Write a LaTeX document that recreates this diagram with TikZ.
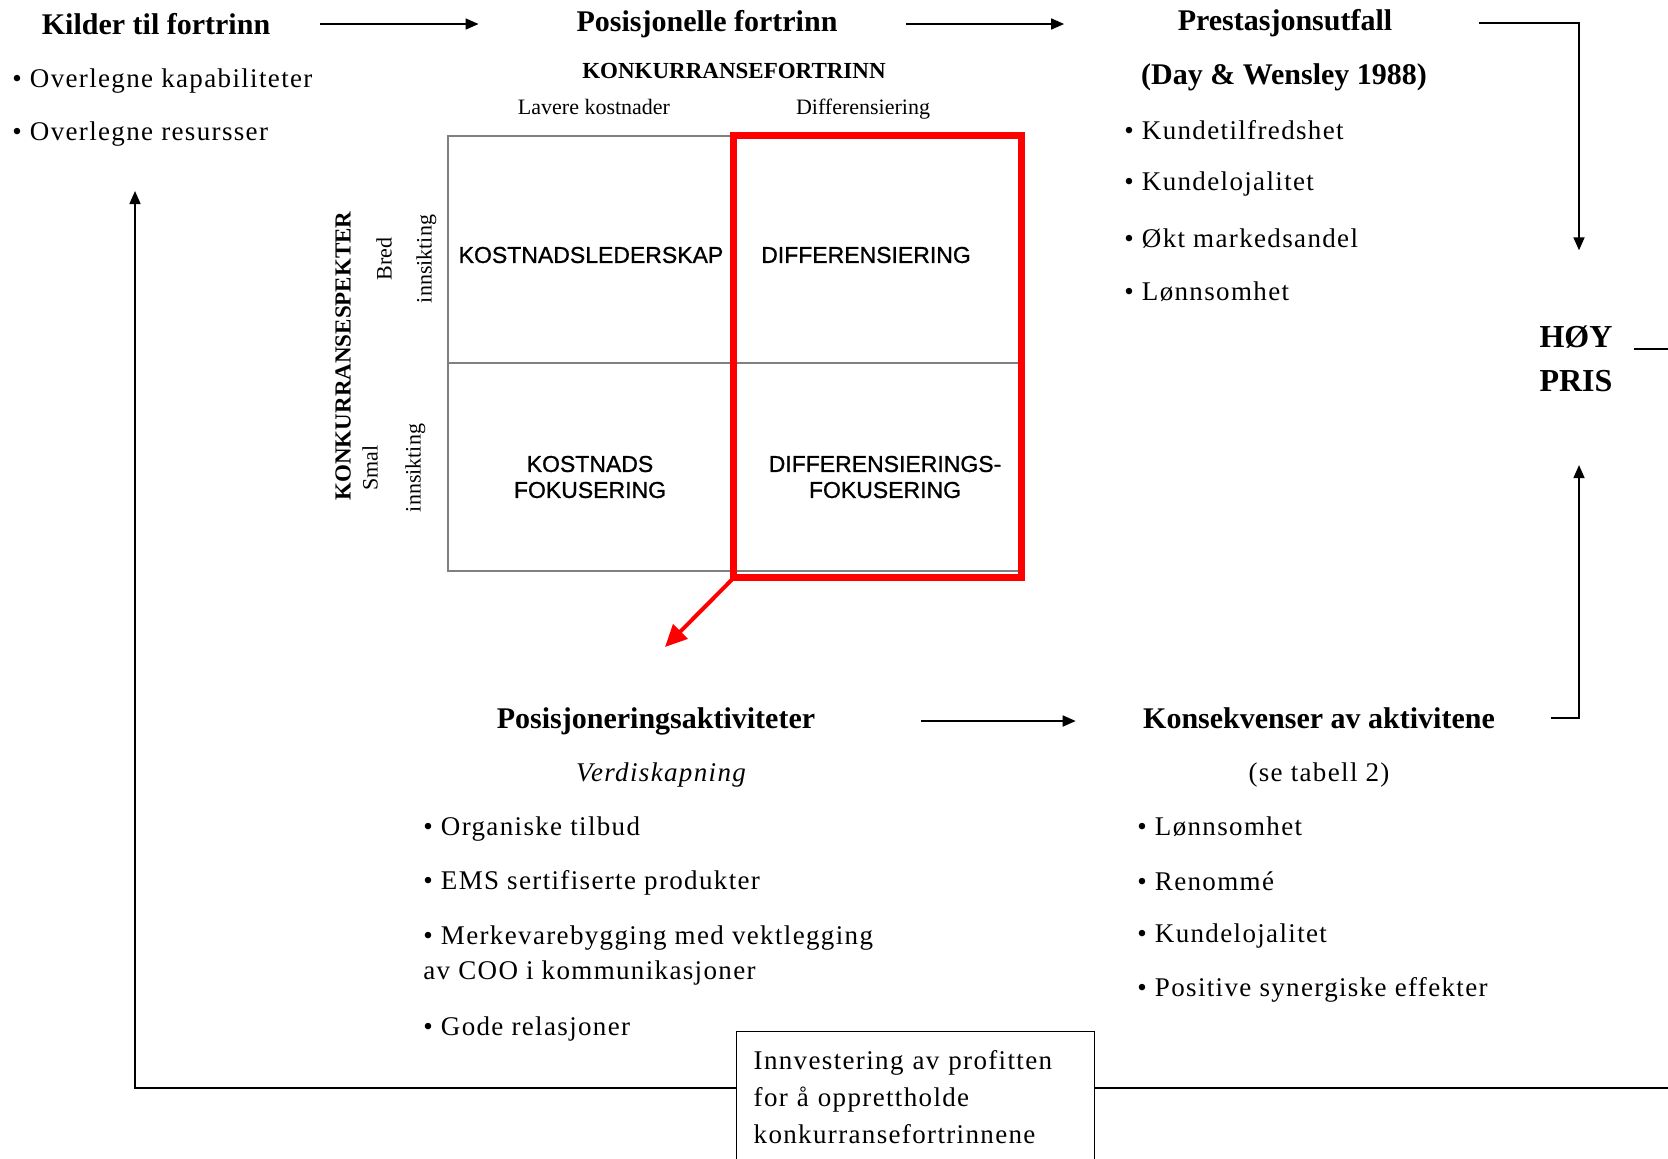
\documentclass[tikz,border=0pt]{standalone}
\usepackage{fontspec}
\setmainfont{Liberation Serif}
\newfontfamily\bodyfont[LetterSpace=5]{Liberation Serif}
\newfontfamily\cellfont[FakeBold=1]{Liberation Sans}
\usetikzlibrary{arrows.meta}

\tikzset{
  head/.style={font=\fontsize{15}{18}\selectfont\bfseries},
  item/.style={anchor=west, align=left, inner sep=0pt,
    font=\bodyfont\fontsize{13.5}{17.5}\selectfont},
  flow/.style={-{Triangle[length=6.5pt,width=5.5pt]}, line width=0.8pt},
  link/.style={line width=0.8pt},
  cell/.style={draw=gray, line width=0.7pt, minimum width=143pt},
  celltext/.style={align=center, inner sep=0pt, font=\cellfont\fontsize{11.5}{13}\selectfont},
  axis/.style={font=\fontsize{11}{13}\selectfont, text height=1.6ex, text depth=0.4ex},
  axishead/.style={font=\fontsize{11.5}{13}\selectfont\bfseries},
  redframe/.style={draw=red, line width=3.5pt},
  redflow/.style={-{Triangle[length=11pt,width=10pt]}, red, line width=2pt},
}

\begin{document}
\begin{tikzpicture}[x=0.5pt, y=-0.5pt]
  \clip (0,0) rectangle (1668,1158);

  % headings
  \node[head] (kilder) at (156,24) {Kilder til fortrinn};
  \node[head] (posfor) at (707,24) {Posisjonelle fortrinn};
  \node[head] (prest) at (1285,23) {Prestasjonsutfall};
  \node[head] (dayw) at (1284,77) {(Day \& Wensley 1988)};
  \node[head, font=\fontsize{16}{22}\selectfont\bfseries, align=center] (hoy) at (1576,359) {HØY\\PRIS};
  \node[head] (posakt) at (656,721) {Posisjoneringsaktiviteter};
  \node[item, anchor=center, font=\bodyfont\fontsize{13.5}{17.5}\selectfont\itshape] (verdi) at (661,775) {Verdiskapning};
  \node[head] (konsek) at (1319,718) {Konsekvenser av aktivitene};
  \node[item, anchor=center] (setab) at (1319,775) {(se tabell 2)};

  % bullet lists
  \foreach \txt [count=\i] in {Overlegne kapabiliteter, Overlegne resursser}
    \node[item] (kilde\i) at (12,{28+53*\i}) {\textbullet\ \txt};
  \foreach \txt [count=\i] in {Kundetilfredshet, Kundelojalitet, Økt markedsandel, Lønnsomhet}
    \node[item] (utfall\i) at (1124,{76+54*\i}) {\textbullet\ \txt};
  \foreach \txt [count=\i] in {Lønnsomhet, Renommé, Kundelojalitet, Positive synergiske effekter}
    \node[item] (kons\i) at (1137,{772+54.5*\i}) {\textbullet\ \txt};
  \node[item] (akt1) at (423,829) {\textbullet\ Organiske tilbud};
  \node[item] (akt2) at (423,883) {\textbullet\ EMS sertifiserte produkter};
  \node[item] (akt3) at (423,955) {\textbullet\ Merkevarebygging med vektlegging\\av COO i kommunikasjoner};
  \node[item] (akt4) at (423,1029) {\textbullet\ Gode relasjoner};

  % strategy matrix
  \node[axishead] (kfr) at (734,71) {KONKURRANSEFORTRINN};
  \node[axis] (lav) at (594,109) {Lavere kostnader};
  \node[axis] (dif) at (863,109) {Differensiering};
  \node[axishead, rotate=90] (ksp) at (343,356) {KONKURRANSESPEKTER};
  \node[axis, rotate=90] (bred) at (386,259) {Bred};
  \node[axis, rotate=90] (innb) at (426,259) {innsikting};
  \node[axis, rotate=90] (smal) at (372,468) {Smal};
  \node[axis, rotate=90] (inns) at (415,468) {innsikting};

  \node[cell, minimum height=113.5pt] (kl) at (591,249.5) {};
  \node[cell, minimum height=113.5pt] (df) at (877.5,249.5) {};
  \node[cell, minimum height=104pt] (kf) at (591,467) {};
  \node[cell, minimum height=104pt] (dff) at (877.5,467) {};
  \node[celltext] (kltxt) at ([yshift=-2.75pt]kl.center) {KOSTNADSLEDERSKAP};
  \node[celltext] (dftxt) at ([xshift=-5.75pt,yshift=-2.75pt]df.center) {DIFFERENSIERING};
  \node[celltext] (kftxt) at ([xshift=-0.5pt,yshift=-5pt]kf.center) {KOSTNADS\\FOKUSERING};
  \node[celltext] (dfftxt) at ([xshift=3.75pt,yshift=-5pt]dff.center) {DIFFERENSIERINGS-\\FOKUSERING};

  \draw[redframe] (df.north west) rectangle ([yshift=-3pt]dff.south east);
  \coordinate (redtip) at (665,647);
  \draw[redflow] ([yshift=-3pt]dff.south west) -- (redtip);

  % reinvestment box
  \node[draw, line width=0.7pt, anchor=north west, align=left, inner xsep=8.5pt,
    inner ysep=9.5pt, text width=162pt, text depth=60pt,
    font=\bodyfont\fontsize{13.5}{18.5}\selectfont] (invest) at (736,1031)
    {Innvestering av profitten\\for å opprettholde\\konkurransefortrinnene};

  % flow arrows
  \draw[flow] ([xshift=21.5pt]kilder.east) -- ([xshift=-45.5pt]posfor.west);
  \draw[flow] ([xshift=31pt]posfor.east) -- ([xshift=-53.3pt]prest.west |- posfor.east);
  \draw[flow] ([xshift=39.8pt]prest.east) -| ([xshift=1.5pt,yshift=34.3pt]hoy.north);
  \draw[flow] ([xshift=49.3pt]posakt.east) -- ([xshift=-30.2pt]konsek.west |- posakt.east);
  \draw[flow] ([xshift=24.3pt]konsek.east) -| ([xshift=1.5pt,yshift=-33pt]hoy.south);

  % feedback loop
  \coordinate (loopL) at (135,1088);
  \coordinate (loopR) at (1668,1088);
  \coordinate (srcin) at (135,191);
  \coordinate (hoyR) at (1668,349);
  \draw[flow] (invest.west |- loopL) -- (loopL) -- (srcin);
  \draw[link] (invest.east |- loopR) -- (loopR);
  \draw[link] ([xshift=7pt]hoy.east |- hoyR) -- (hoyR);
\end{tikzpicture}
\end{document}
